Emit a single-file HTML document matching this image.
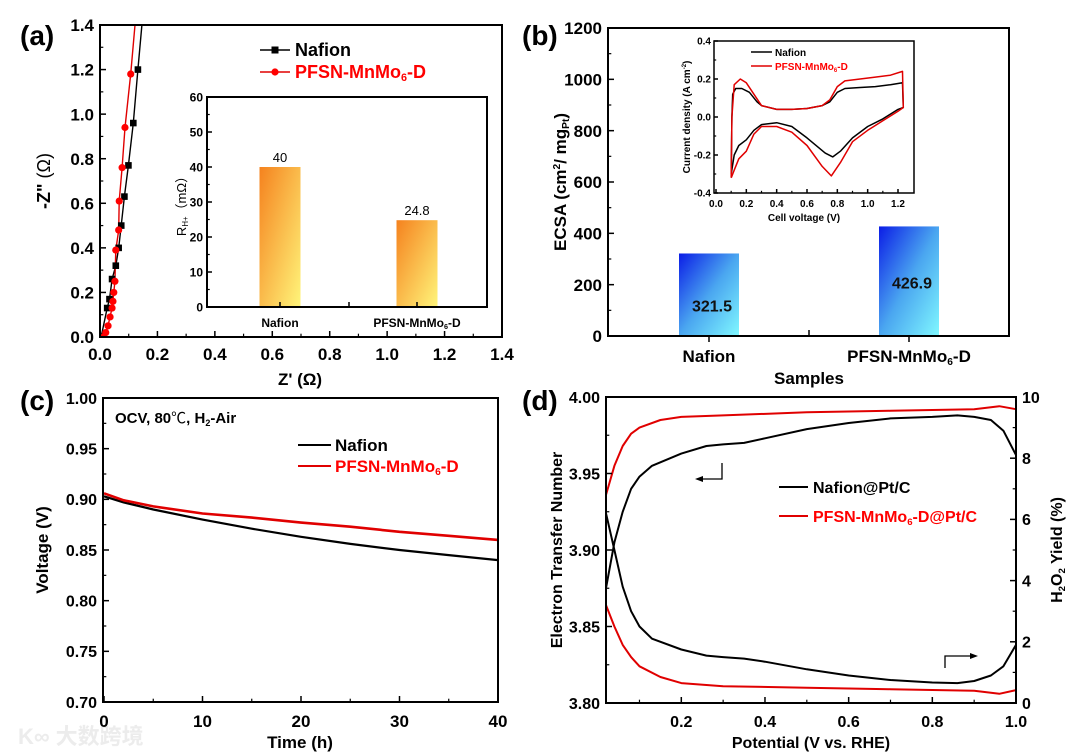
<!DOCTYPE html>
<html><head><meta charset="utf-8"><style>
html,body{margin:0;padding:0;background:#fff}
svg{display:block;font-family:"Liberation Sans","Noto Sans CJK SC",sans-serif}
</style></head><body>
<svg id="c" width="1080" height="752" viewBox="0 0 1080 752" xmlns="http://www.w3.org/2000/svg">
<defs>
<linearGradient id="gOr" x1="0" y1="0" x2="1" y2="1"><stop offset="0" stop-color="#f5821e"/><stop offset="1" stop-color="#fff57a"/></linearGradient>
<linearGradient id="gBl" x1="0" y1="0" x2="1" y2="1"><stop offset="0" stop-color="#0b1de6"/><stop offset="0.5" stop-color="#4aa6f0"/><stop offset="1" stop-color="#80f8ff"/></linearGradient>
</defs>
<text x="18" y="744" font-size="22" fill="#ececec" font-weight="bold">K∞ 大数跨境</text>
</svg>
<script>
// ---- data (a) Nyquist ----
const aNafX=[0.004,0.025,0.033,0.042,0.055,0.065,0.074,0.085,0.099,0.116,0.132,0.146];
const aNafY=[0,0.13,0.17,0.26,0.32,0.40,0.50,0.63,0.77,0.96,1.20,1.40];
const aPfX=[0.012,0.02,0.028,0.035,0.042,0.045,0.048,0.052,0.055,0.065,0.067,0.077,0.087,0.107,0.122];
const aPfY=[0,0.02,0.05,0.09,0.13,0.16,0.20,0.25,0.39,0.48,0.61,0.76,0.94,1.18,1.40];
const aMarkN=11, aMarkP=14;
// inset (a)
const aCats=["Nafion","PFSN-MnMo6-D"];
const aVals=[40,24.8];
const aValLabels=["40","24.8"];
// ---- (b) ----
const bCats=["Nafion","PFSN-MnMo6-D"];
const bVals=[321.5,426.9];
const bValLabels=["321.5","426.9"];
const cvNafX=[0.1,0.105,0.11,0.13,0.17,0.22,0.27,0.3,0.4,0.5,0.6,0.7,0.75,0.8,0.85,0.95,1.05,1.15,1.23,1.235,1.2,1.1,1.0,0.9,0.82,0.77,0.72,0.6,0.5,0.4,0.3,0.25,0.2,0.15,0.12,0.1];
const cvNafY=[-0.3,0.0,0.12,0.15,0.15,0.13,0.08,0.06,0.04,0.04,0.045,0.06,0.08,0.13,0.15,0.155,0.16,0.17,0.18,0.05,0.04,-0.01,-0.05,-0.11,-0.18,-0.21,-0.19,-0.11,-0.05,-0.03,-0.04,-0.07,-0.12,-0.15,-0.2,-0.3];
const cvPfX=[0.1,0.105,0.12,0.16,0.2,0.25,0.3,0.4,0.5,0.6,0.7,0.75,0.8,0.85,0.95,1.05,1.15,1.23,1.235,1.2,1.1,1.0,0.9,0.82,0.76,0.7,0.6,0.5,0.4,0.3,0.25,0.2,0.15,0.12,0.1];
const cvPfY=[-0.32,0.0,0.17,0.2,0.18,0.12,0.06,0.04,0.04,0.045,0.06,0.09,0.16,0.19,0.2,0.21,0.22,0.24,0.05,0.03,-0.02,-0.07,-0.13,-0.24,-0.31,-0.26,-0.15,-0.08,-0.05,-0.05,-0.09,-0.18,-0.22,-0.28,-0.32];
// ---- (c) ----
const cT=[0,2,5,10,15,20,25,30,35,40];
const cNaf=[0.903,0.897,0.890,0.880,0.871,0.863,0.856,0.850,0.845,0.840];
const cPf=[0.906,0.899,0.893,0.886,0.882,0.877,0.873,0.868,0.864,0.860];
// ---- (d) ----
const dXN=[0.02,0.04,0.06,0.08,0.1,0.13,0.2,0.26,0.3,0.35,0.4,0.5,0.6,0.7,0.8,0.86,0.9,0.94,0.97,1.0];
const dNafN=[3.875,3.905,3.925,3.94,3.948,3.955,3.963,3.968,3.969,3.970,3.973,3.979,3.983,3.986,3.987,3.988,3.987,3.985,3.978,3.962];
const dNafH=[6.2,5.0,3.8,3.0,2.5,2.1,1.75,1.55,1.5,1.45,1.35,1.1,0.9,0.75,0.67,0.65,0.72,0.9,1.2,1.9];
const dXP=[0.02,0.04,0.06,0.08,0.1,0.15,0.2,0.3,0.5,0.7,0.9,0.96,1.0];
const dPfN=[3.936,3.955,3.968,3.976,3.98,3.985,3.987,3.988,3.990,3.991,3.992,3.994,3.992];
const dPfH=[3.2,2.5,1.9,1.5,1.2,0.85,0.65,0.55,0.5,0.45,0.4,0.3,0.42];

const NS="http://www.w3.org/2000/svg";
const svg=document.getElementById('c');
function el(tag,attrs,parent){const e=document.createElementNS(NS,tag);for(const k in attrs)e.setAttribute(k,attrs[k]);(parent||svg).appendChild(e);return e;}
function lin(d0,d1,r0,r1){return v=>r0+(v-d0)/(d1-d0)*(r1-r0);}
function txt(x,y,s,size,opts,parent){const t=el('text',Object.assign({x:x,y:y,'font-size':size,'font-weight':'bold'},opts||{}),parent);t.innerHTML=s;return t;}
function box(x0,y0,x1,y1,w){const r=el('rect',{x:x0,y:y0,width:x1-x0,height:y1-y0,fill:'none',stroke:'#000','stroke-width':w||2});}
function yTicks(sc,vals,x,side,len,fmt,size,labX,anchor,minor){
  vals.forEach(v=>{el('line',{x1:x,x2:x+side*len,y1:sc(v),y2:sc(v),stroke:'#000','stroke-width':1.5});
    if(fmt){const t=txt(labX,sc(v)+size*0.36,fmt(v),size,{'text-anchor':anchor});}});
  if(minor)minor.forEach(v=>el('line',{x1:x,x2:x+side*len*0.55,y1:sc(v),y2:sc(v),stroke:'#000','stroke-width':1.2}));
}
function xTicks(sc,vals,y,side,len,fmt,size,labY,minor){
  vals.forEach(v=>{el('line',{y1:y,y2:y+side*len,x1:sc(v),x2:sc(v),stroke:'#000','stroke-width':1.5});
    if(fmt){const t=txt(sc(v),labY,fmt(v),size,{'text-anchor':'middle'});}});
  if(minor)minor.forEach(v=>el('line',{y1:y,y2:y+side*len*0.55,x1:sc(v),x2:sc(v),stroke:'#000','stroke-width':1.2}));
}
function range(a,b,s){const r=[];for(let v=a;v<=b+1e-9;v+=s)r.push(+v.toFixed(6));return r;}
function path(xs,ys,sx,sy,color,w,name){const d=xs.map((x,i)=>(i?'L':'M')+sx(x).toFixed(1)+','+sy(ys[i]).toFixed(1)).join('');const p=el('path',{d:d,fill:'none',stroke:color,'stroke-width':w,'stroke-linejoin':'round'});return p;}
function label(x,y,s,name){const t=txt(x,y,s,28);}
function rotTitle(x,y,s,size,name,weight){const t=el('text',{x:0,y:0,'font-size':size,'font-weight':weight||'bold','text-anchor':'middle',transform:`translate(${x},${y}) rotate(-90)`});t.innerHTML=s;}
const sub=(s)=>`<tspan font-size="0.6em" baseline-shift="-30%">${s}</tspan>`;
const sup=(s)=>`<tspan font-size="0.6em" baseline-shift="60%">${s}</tspan>`;

// ===== Panel (a) =====
{const X0=100,X1=502,Y0=25,Y1=337;
 const sx=lin(0,1.4,X0,X1), sy=lin(0,1.4,Y1,Y0);
 label(20,45,'(a)','panel-label-a');
 const clip=el('clipPath',{id:'clipA'});el('rect',{x:X0,y:Y0,width:X1-X0,height:Y1-Y0},clip);
 const g=el('g',{'clip-path':'url(#clipA)'});
 const pn=path(aNafX,aNafY,sx,sy,'#000',1.4,'series-nafion');g.appendChild(pn);
 const pp=path(aPfX,aPfY,sx,sy,'#e00000',1.4,'series-pfsn');g.appendChild(pp);
 aNafX.slice(0,aMarkN).forEach((x,i)=>{const r=el('rect',{x:sx(x)-3.3,y:sy(aNafY[i])-3.3,width:6.6,height:6.6,fill:'#000'},g);});
 aPfX.slice(0,aMarkP).forEach((x,i)=>{const c=el('circle',{cx:sx(x),cy:sy(aPfY[i]),r:3.6,fill:'#ff0000'},g);});
 box(X0,Y0,X1,Y1);
 yTicks(sy,range(0,1.4,0.2),X0,1,6,v=>v.toFixed(1),17,94,'end',range(0.1,1.3,0.2));
 xTicks(sx,range(0,1.4,0.2),Y1,-1,6,v=>v.toFixed(1),17,360,range(0.1,1.3,0.2));
 rotTitle(50,181,'-Z" <tspan font-weight="normal">(Ω)</tspan>',18,'y-axis-title-a');
 const xt=txt(300,385,"Z' (Ω)",17,{'text-anchor':'middle'});
 el('line',{x1:260,x2:290,y1:50,y2:50,stroke:'#000','stroke-width':1.5});el('rect',{x:271.5,y:46.5,width:7,height:7,fill:'#000'});
 const l1=txt(295,56,'Nafion',18);
 el('line',{x1:260,x2:290,y1:72,y2:72,stroke:'#e00000','stroke-width':1.5});el('circle',{cx:275,cy:72,r:3.6,fill:'#ff0000'});
 const l2=txt(295,78,'PFSN-MnMo'+sub('6')+'-D',18,{fill:'#ff0000'});
 const IX0=207,IX1=487,IY0=97,IY1=307;
 const iy=lin(0,60,IY1,IY0);
 const cx=[280,417];
 aVals.forEach((v,i)=>{const r=el('rect',{x:cx[i]-20.5,y:iy(v),width:41,height:iy(0)-iy(v),fill:'url(#gOr)'});
   const t=txt(cx[i],iy(v)-5,aValLabels[i],13,{'text-anchor':'middle','font-weight':'normal'});});
 box(IX0,IY0,IX1,IY1,2);
 yTicks(iy,range(0,60,10),IX0,1,5,v=>String(v),12,203,'end',range(5,55,10));
 [cx[0],349,cx[1]].forEach(x=>el('line',{x1:x,x2:x,y1:IY1,y2:IY1-5,stroke:'#000','stroke-width':1.5}));
 aCats.forEach((c,i)=>{const t=txt(cx[i],327,c.replace('Mo6','Mo'+sub('6')),12,{'text-anchor':'middle'});});
 rotTitle(186,203,'R'+sub('H+')+'（mΩ）',13,'inset-y-axis-title-a','normal');
}
// ===== Panel (b) =====
{const X0=608,X1=1009,Y0=28,Y1=336;
 const sy=lin(0,1200,Y1,Y0);
 label(522,45,'(b)','panel-label-b');
 const cx=[709,909];
 bVals.forEach((v,i)=>{const r=el('rect',{x:cx[i]-30,y:sy(v),width:60,height:sy(0)-sy(v),fill:'url(#gBl)'});
   const t=txt(cx[i]+3,sy(v)+(i?62:58),bValLabels[i],16,{'text-anchor':'middle',fill:'#111'});});
 box(X0,Y0,X1,Y1);
 yTicks(sy,range(0,1200,200),X0,1,6,v=>String(v),17,602,'end',range(100,1100,200));
 [cx[0],809,cx[1]].forEach(x=>el('line',{x1:x,x2:x,y1:Y1,y2:Y1+(x==809?-6:6),stroke:'#000','stroke-width':1.5}));
 bCats.forEach((c,i)=>{const t=txt(cx[i],362,c.replace('Mo6','Mo'+sub('6')),17,{'text-anchor':'middle'});});
 const xt=txt(809,384,'Samples',17,{'text-anchor':'middle'});
 rotTitle(566,182,'ECSA (cm'+sup('2')+'/ mg'+sub('Pt')+')',17,'y-axis-title-b');
 const IX0=714,IX1=914,IY0=41,IY1=193;
 const ix=lin(0,1.2,716,898), iy=lin(-0.4,0.4,IY1,IY0);
 path(cvNafX,cvNafY,ix,iy,'#000',1.5,'cv-nafion');
 path(cvPfX,cvPfY,ix,iy,'#e00000',1.5,'cv-pfsn');
 box(IX0,IY0,IX1,IY1,1.5);
 yTicks(iy,range(-0.4,0.4,0.2),IX0,1,4,v=>v.toFixed(1),10,711,'end',range(-0.3,0.3,0.2));
 xTicks(ix,range(0,1.2,0.2),IY1,-1,4,v=>v.toFixed(1),10,207,range(0.1,1.3,0.2).filter(v=>v<1.3));
 const xt2=txt(804,221,'Cell voltage (V)',10,{'text-anchor':'middle'});
 rotTitle(690,117,'Current density (A cm'+sup('-2')+')',10,'inset-y-axis-title-b');
 el('line',{x1:751,x2:772,y1:52,y2:52,stroke:'#000','stroke-width':1.5});
 const l1=txt(775,56,'Nafion',10);
 el('line',{x1:751,x2:772,y1:66,y2:66,stroke:'#e00000','stroke-width':1.5});
 const l2=txt(775,70,'PFSN-MnMo'+sub('6')+'-D',10,{fill:'#ff0000'});
}
// ===== Panel (c) =====
{const X0=103,X1=498,Y0=398,Y1=702;
 const sx=lin(0,40,104,498), sy=lin(0.7,1.0,Y1,Y0);
 label(20,410,'(c)','panel-label-c');
 path(cT,cNaf,sx,sy,'#000',2.2,'series-nafion');
 path(cT,cPf,sx,sy,'#e00000',2.6,'series-pfsn');
 box(X0,Y0,X1,Y1);
 yTicks(sy,range(0.7,1.0,0.05),X0,1,6,v=>v.toFixed(2),16,97,'end',range(0.725,0.975,0.05));
 xTicks(sx,range(0,40,10),Y1,-1,6,v=>String(v),17,727,range(5,35,10));
 rotTitle(48,550,'Voltage (V)',17,'y-axis-title-c');
 const xt=txt(300,748,'Time (h)',17,{'text-anchor':'middle'});
 const an=txt(115,423,'OCV, 80<tspan font-weight="normal">℃</tspan>, H'+sub('2')+'-Air',15);
 el('line',{x1:298,x2:331,y1:445,y2:445,stroke:'#000','stroke-width':2});
 const l1=txt(335,451,'Nafion',17);
 el('line',{x1:298,x2:331,y1:466,y2:466,stroke:'#e00000','stroke-width':2});
 const l2=txt(335,472,'PFSN-MnMo'+sub('6')+'-D',17,{fill:'#ff0000'});
}
// ===== Panel (d) =====
{const X0=606,X1=1016,Y0=397,Y1=703;
 const sx=lin(0.02,1.0,X0,X1), syL=lin(3.8,4.0,Y1,Y0), syR=lin(0,10,Y1,Y0);
 label(522,410,'(d)','panel-label-d');
 path(dXN,dNafN,sx,syL,'#000',2,'n-nafion');
 path(dXN,dNafH,sx,syR,'#000',2,'h2o2-nafion');
 path(dXP,dPfN,sx,syL,'#e00000',2,'n-pfsn');
 path(dXP,dPfH,sx,syR,'#e00000',2,'h2o2-pfsn');
 box(X0,Y0,X1,Y1);
 yTicks(syL,range(3.8,4.0,0.05),X0,1,6,v=>v.toFixed(2),16,600,'end',range(3.825,3.975,0.05));
 yTicks(syR,range(0,10,2),X1,-1,6,v=>String(v),16,1022,'start',range(1,9,2));
 xTicks(sx,range(0.2,1.0,0.2),Y1,-1,6,v=>v.toFixed(1),16,727,range(0.1,0.9,0.2));
 rotTitle(562,550,'Electron Transfer Number',16,'y-axis-title-left-d');
 rotTitle(1062,550,'H'+sub('2')+'O'+sub('2')+' Yield (%)',16,'y-axis-title-right-d');
 const xt=txt(811,748,'Potential (V vs. RHE)',16,{'text-anchor':'middle'});
 el('path',{d:'M722,463 L722,479 L700,479',fill:'none',stroke:'#000','stroke-width':1.3});el('path',{d:'M695,479 L703,476 L703,482 Z',fill:'#000'});
 el('path',{d:'M945,668 L945,656 L972,656',fill:'none',stroke:'#000','stroke-width':1.3});el('path',{d:'M978,656 L970,653 L970,659 Z',fill:'#000'});
 el('line',{x1:779,x2:808,y1:487,y2:487,stroke:'#000','stroke-width':2});
 const l1=txt(813,493,'Nafion@Pt/C',16);
 el('line',{x1:779,x2:808,y1:516,y2:516,stroke:'#e00000','stroke-width':2});
 const l2=txt(813,522,'PFSN-MnMo'+sub('6')+'-D@Pt/C',16,{fill:'#ff0000'});
}
</script>
</body></html>
